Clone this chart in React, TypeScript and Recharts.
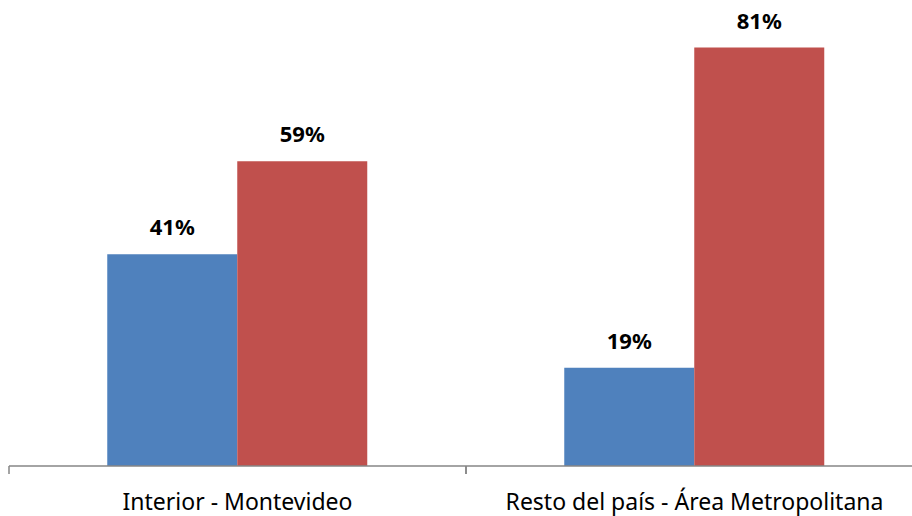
import React from 'react';
import { BarChart, Bar, XAxis, YAxis, LabelList } from 'recharts';

const categories = ['Interior - Montevideo', 'Resto del país - Área Metropolitana'];
const firstValues = [41, 19];
const secondValues = [59, 81];

const data = categories.map((name, i) => ({ name, a: firstValues[i], b: secondValues[i] }));

const CHART_W = 940;
const BAND = (CHART_W - 9 - 17) / categories.length;

const fmt = (v: number) => `${v}%`;

const CategoryTick = (props: any) => {
  const { x, y, payload } = props;
  const left = x - BAND / 2;
  const axisY = 466;
  return (
    <g>
      <line x1={left} y1={axisY} x2={left} y2={axisY + 8} stroke="#868686" strokeWidth={1.5} />
      <line x1={left + BAND} y1={axisY} x2={left + BAND} y2={axisY + 8} stroke="#868686" strokeWidth={1.5} />
      <text x={x} y={y + 36} textAnchor="middle" fill="#000" fontSize={23} fontFamily="'Noto Sans', sans-serif">
        {payload.value}
      </text>
    </g>
  );
};

export default function App() {
  return (
    <div style={{ position: 'absolute', left: 0, top: 0, width: 912, height: 516, overflow: 'hidden', background: '#fff' }}>
      <BarChart
        width={CHART_W}
        height={516}
        data={data}
        margin={{ top: 1, right: 17, left: 9, bottom: 0 }}
        barCategoryGap="21.5%"
        barGap={0}
      >
        <YAxis hide domain={[0, 90]} />
        <XAxis
          dataKey="name"
          height={50}
          axisLine={{ stroke: '#868686', strokeWidth: 1.5 }}
          tickLine={false}
          tick={<CategoryTick />}
          interval={0}
        />
        <Bar dataKey="a" fill="#4F81BD" isAnimationActive={false}>
          <LabelList dataKey="a" position="top" offset={19} formatter={fmt} fill="#000" fontSize={22} fontWeight="bold" fontFamily="'Noto Sans', sans-serif" />
        </Bar>
        <Bar dataKey="b" fill="#C0504D" isAnimationActive={false}>
          <LabelList dataKey="b" position="top" offset={19} formatter={fmt} fill="#000" fontSize={22} fontWeight="bold" fontFamily="'Noto Sans', sans-serif" />
        </Bar>
      </BarChart>
    </div>
  );
}
